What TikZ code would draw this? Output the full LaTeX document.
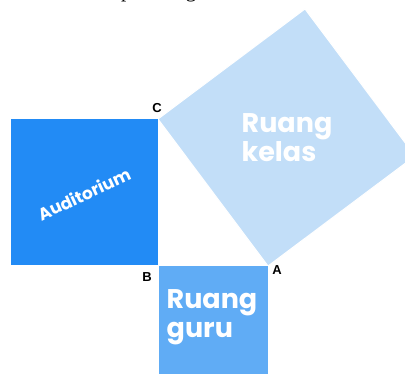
\documentclass[tikz,border=0pt]{standalone}
\usepackage{fontspec}
\setmainfont{Liberation Serif}
\newfontfamily\handfont{Poppins}
\newfontfamily\labfont{Liberation Sans}
\usetikzlibrary{calc}
\definecolor{audblue}{RGB}{34,139,245}
\definecolor{kelasblue}{RGB}{194,222,248}
\definecolor{gurublue}{RGB}{96,172,245}
\begin{document}
\begin{tikzpicture}[x=1pt,y=-1pt,
  room/.style={draw=white, line width=1pt},
  roomtext/.style={text=white, font=\handfont\bfseries\fontsize{27}{29}\selectfont, align=left, inner sep=0pt},
  vlabel/.style={font=\labfont\bfseries\fontsize{13}{13}\selectfont, inner sep=1pt}]
\useasboundingbox (0,0) rectangle (405,374);
\clip (0,0) rectangle (405,374);
\coordinate (B) at (158,266);
\coordinate (C) at (158,119);
\coordinate (A) at (268,266);
\coordinate (D) at ($(A)+(147,-110)$);
\coordinate (E) at ($(C)+(147,-110)$);
\coordinate (F) at (10,119);
\coordinate (G) at (268,376);
% top text line, cut off by the page edge
\node[anchor=base west, inner sep=0pt, font=\fontsize{21}{21}\selectfont] (title) at (121,-2) {pada bagian};
% squares
\filldraw[room, fill=kelasblue] (C) -- (A) -- (D) -- (E) -- cycle;
\filldraw[room, fill=audblue] (F) rectangle (B);
\filldraw[room, fill=gurublue] (B) rectangle (G);
% texts
\node[roomtext, rotate=25, font=\handfont\bfseries\fontsize{17}{17}\selectfont] (aud) at (84,194) {Auditorium};
\node[roomtext] (kelas) at (287,138) {Ruang\\kelas};
\node[roomtext] (guru) at (212,317) {Ruang\\guru};
% vertex labels
\node[vlabel] (lc) at (157,108) {C};
\node[vlabel] (lb) at (147,277) {B};
\node[vlabel] (la) at (277,270) {A};
\end{tikzpicture}
\end{document}
